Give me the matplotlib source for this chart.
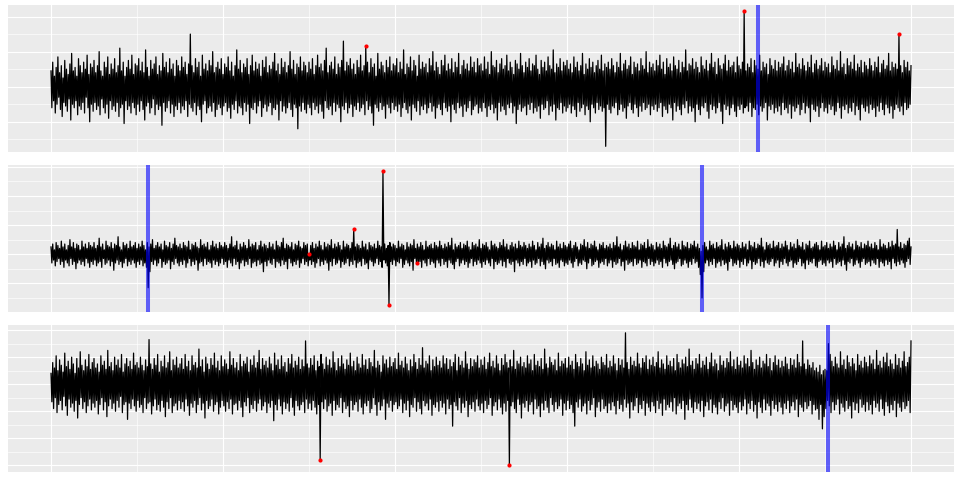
import numpy as np
import matplotlib
matplotlib.use("Agg")
import matplotlib.pyplot as plt

# ====== data: three noisy series, values stored in tenths ======
# 雜訊很密，所以每條序列記成「高點」(偶數時間點) 與「低點」(奇數時間點) 兩份，畫之前交錯合併
highs1 = [
    9, 14, 6, 11, 17, 8, 12, 5, 15, 10, 7, 13, 19, 9, 11, 6, 16, 12, 8, 14, 10, 18, 7, 13, 11,
    15, 8, 12, 20, 9, 6, 14, 11, 17, 7, 13, 10, 16, 8, 12, 22, 9, 14, 6, 11, 15, 10, 18, 7, 13,
    12, 16, 9, 14, 8, 21, 11, 6, 15, 10, 13, 17, 7, 12, 9, 19, 11, 14, 8, 16, 10, 13, 6, 15, 12,
    9, 17, 11, 14, 7, 13, 30, 12, 8, 16, 11, 14, 6, 18, 10, 13, 9, 15, 12, 20, 8, 11, 14, 10, 16,
    7, 13, 11, 17, 9, 14, 6, 12, 21, 10, 15, 8, 13, 11, 16, 7, 12, 18, 9, 14, 10, 13, 6, 15, 11,
    17, 8, 12, 10, 14, 19, 9, 13, 7, 16, 11, 14, 8, 12, 20, 10, 15, 7, 13, 11, 17, 9, 14, 12, 8,
    14, 10, 16, 7, 12, 18, 11, 13, 9, 15, 22, 8, 12, 14, 10, 17, 7, 13, 11, 15, 26, 9, 14, 12, 16,
    10, 13, 7, 15, 11, 18, 9, 12, 23, 14, 8, 16, 11, 13, 6, 19, 10, 14, 12, 8, 15, 11, 17, 9, 13,
    12, 16, 8, 14, 10, 21, 7, 13, 11, 17, 9, 15, 12, 6, 18, 10, 14, 11, 13, 8, 16, 12, 20, 9, 14,
    11, 7, 15, 12, 18, 9, 13, 10, 16, 8, 14, 11, 19, 7, 12, 15, 10, 13, 9, 17, 11, 14, 8, 16, 12,
    13, 9, 17, 10, 14, 7, 20, 12, 11, 15, 8, 13, 16, 10, 12, 18, 9, 14, 11, 7, 15, 13, 10, 19, 12,
    8, 14, 11, 16, 9, 13, 12, 18, 10, 7, 15, 11, 14, 9, 17, 12, 10, 21, 8, 13, 11, 16, 9, 14, 12,
    15, 10, 13, 8, 17, 11, 14, 9, 12, 19, 7, 13, 10, 16, 11, 14, 8, 12, 15, 10, 18, 9, 13, 11, 14,
    10, 16, 12, 8, 14, 11, 19, 9, 13, 15, 10, 12, 17, 7, 14, 11, 13, 9, 16, 12, 10, 20, 8, 14, 11,
    13, 9, 15, 12, 18, 10, 14, 7, 16, 11, 13, 9, 17, 12, 10, 15, 8, 14, 11, 21, 9, 13, 12, 16, 10,
    14, 11, 8, 17, 12, 10, 15, 9, 13, 19, 11, 14, 7, 16, 12, 10, 13, 18, 9, 15, 11, 12, 14, 8, 17,
    12, 10, 14, 43, 9, 13, 11, 16, 8, 15, 12, 10, 18, 9, 14, 11, 13, 7, 16, 12, 10, 15, 9, 14, 11,
    13, 17, 9, 12, 15, 10, 14, 8, 19, 11, 13, 10, 16, 12, 9, 14, 11, 18, 8, 13, 15, 10, 12, 16, 9,
    14, 11, 13, 8, 17, 12, 10, 15, 9, 20, 11, 13, 7, 16, 12, 14, 10, 18, 9, 13, 11, 15, 8, 14, 12,
    10, 16, 12, 9, 14, 11, 17, 8, 13, 15, 10, 12, 19, 9, 14, 11, 13, 10, 30, 12, 8, 15, 11, 14, 9, 12,
]
lows1 = [
    -12, -8, -15, -10, -6, -13, -17, -9, -11, -14, -7, -19, -10, -12, -8, -16, -11, -13, -9, -15, -6, -12, -20, -10, -14,
    -9, -13, -11, -16, -7, -12, -15, -10, -18, -8, -13, -11, -14, -9, -17, -12, -10, -21, -8, -13, -11, -15, -9, -12, -16,
    -10, -14, -8, -13, -19, -11, -9, -15, -12, -7, -16, -10, -13, -11, -22, -9, -14, -12, -8, -15, -10, -17, -11, -13, -9,
    -15, -11, -13, -8, -17, -10, -12, -14, -9, -16, -11, -13, -20, -10, -8, -15, -12, -11, -14, -9, -17, -13, -10, -12, -16,
    -11, -9, -14, -12, -18, -10, -13, -8, -15, -11, -12, -16, -9, -14, -10, -21, -12, -13, -9, -15, -11, -8, -17, -12, -10,
    -14, -11, -9, -16, -12, -13, -10, -19, -8, -14, -11, -15, -12, -9, -13, -17, -10, -12, -24, -11, -14, -9, -13, -15, -10,
    -12, -16, -9, -13, -11, -15, -10, -14, -18, -8, -12, -13, -11, -16, -9, -14, -10, -12, -20, -11, -13, -9, -15, -12, -10,
    -17, -11, -13, -9, -14, -12, -10, -16, -8, -13, -11, -15, -22, -10, -12, -14, -9, -13, -11, -18, -10, -12, -15, -9, -13,
    -11, -14, -10, -17, -12, -9, -13, -15, -11, -19, -10, -12, -14, -8, -16, -11, -13, -10, -15, -12, -9, -14, -11, -18, -12,
    -10, -13, -16, -9, -12, -14, -11, -20, -10, -13, -15, -9, -12, -11, -17, -10, -14, -12, -8, -16, -13, -11, -10, -15, -12,
    -14, -9, -12, -17, -11, -13, -10, -15, -12, -19, -9, -14, -11, -13, -16, -10, -12, -9, -15, -11, -21, -13, -10, -14, -12,
    -11, -16, -10, -13, -9, -15, -12, -14, -11, -18, -10, -13, -12, -8, -16, -11, -14, -10, -19, -12, -13, -9, -15, -11, -14,
    -12, -10, -15, -11, -13, -17, -9, -14, -12, -10, -16, -11, -13, -20, -10, -12, -15, -9, -13, -11, -14, -12, -34, -10, -13,
    -15, -11, -12, -9, -16, -13, -10, -14, -12, -18, -11, -9, -13, -15, -10, -12, -17, -11, -14, -9, -13, -12, -10, -16, -11,
    -13, -10, -14, -12, -9, -17, -11, -13, -15, -10, -12, -19, -9, -14, -11, -13, -16, -10, -12, -8, -15, -11, -14, -12, -20,
    -10, -13, -16, -11, -12, -9, -14, -18, -10, -13, -11, -15, -12, -9, -14, -21, -10, -13, -11, -16, -12, -10, -14, -17, -11,
    -13, -10, -15, -12, -11, -14, -9, -17, -12, -13, -10, -16, -11, -14, -12, -9, -19, -11, -13, -10, -15, -12, -14, -11, -16,
    -9, -13, -12, -15, -10, -18, -11, -14, -12, -10, -16, -13, -9, -15, -11, -12, -20, -10, -13, -14, -11, -17, -12, -9, -14,
    -12, -15, -10, -13, -11, -16, -14, -9, -12, -18, -11, -13, -10, -15, -12, -14, -9, -16, -11, -13, -19, -10, -12, -14, -11,
    -15, -10, -13, -12, -17, -11, -14, -9, -13, -16, -10, -12, -15, -11, -18, -13, -10, -12, -14, -11, -16, -9, -13, -12, -10,
]
highs2 = [
    5, 7, 3, 8, 6, 4, 9, 5, 7, 3, 6, 10, 5, 8, 4, 7, 6, 3, 9, 5, 7, 4, 8, 6, 5,
    8, 4, 6, 11, 5, 7, 3, 9, 6, 5, 8, 4, 7, 6, 12, 5, 3, 8, 6, 7, 4, 9, 5, 6, 8,
    4, 7, 5, 9, 6, 3, 8, 5, 7, 10, 4, 6, 8, 5, 7, 3, 9, 6, 5, 8, 4, 7, 11, 6, 5,
    7, 4, 8, 6, 5, 9, 3, 7, 6, 8, 5, 4, 10, 6, 7, 5, 8, 3, 6, 9, 5, 7, 4, 8, 6,
    5, 8, 6, 4, 7, 12, 5, 6, 9, 3, 7, 5, 8, 6, 4, 10, 5, 7, 6, 8, 3, 6, 9, 5, 7,
    6, 4, 8, 5, 7, 3, 9, 6, 5, 8, 11, 4, 7, 6, 5, 8, 3, 7, 6, 9, 5, 4, 8, 6, 7,
    0, 6, 8, 4, 7, 5, 9, 6, 3, 8, 5, 7, 6, 10, 4, 7, 5, 8, 6, 3, 9, 5, 7, 6, 4,
    8, 17, 5, 7, 6, 4, 9, 5, 7, 3, 8, 6, 5, 7, 4, 9, 6, 5, 57, 7, 4, 6, 8, 5, 7,
    6, 4, 9, 5, 7, 6, 3, 8, 5, 7, 6, 10, 4, 7, 5, 8, 6, 3, 9, 5, 6, 7, 4, 8, 6,
    5, 9, 6, 4, 7, 5, 8, 6, 11, 3, 7, 5, 6, 8, 4, 7, 6, 9, 5, 3, 8, 6, 7, 5, 10,
    4, 7, 6, 8, 5, 3, 9, 6, 7, 5, 4, 8, 6, 10, 5, 7, 3, 6, 8, 5, 7, 4, 9, 6, 5,
    8, 6, 4, 7, 5, 9, 6, 3, 8, 5, 7, 11, 4, 6, 8, 5, 7, 6, 3, 9, 5, 7, 4, 8, 6,
    5, 7, 9, 4, 6, 8, 5, 3, 7, 6, 10, 5, 8, 4, 7, 6, 9, 5, 3, 7, 6, 8, 4, 6, 5,
    7, 4, 8, 6, 12, 5, 7, 3, 6, 9, 5, 7, 4, 8, 6, 5, 9, 3, 7, 6, 8, 4, 10, 5, 7,
    6, 3, 8, 5, 7, 4, 9, 6, 5, 7, 11, 4, 6, 8, 5, 7, 3, 9, 6, 5, 8, 4, 7, 6, 9,
    5, 7, 4, 2, 6, 8, 5, 3, 9, 6, 7, 4, 8, 5, 6, 10, 3, 7, 5, 8, 6, 4, 9, 5, 7,
    6, 4, 8, 5, 7, 3, 9, 6, 5, 8, 4, 7, 6, 11, 5, 3, 8, 6, 7, 4, 9, 5, 6, 8, 4,
    7, 5, 9, 6, 3, 8, 5, 7, 4, 10, 6, 5, 8, 3, 7, 6, 9, 4, 5, 7, 8, 6, 3, 9, 5,
    6, 8, 4, 7, 5, 9, 6, 3, 8, 5, 7, 12, 4, 6, 8, 5, 7, 3, 9, 6, 5, 8, 4, 7, 6,
    9, 5, 7, 4, 8, 6, 3, 10, 5, 7, 6, 4, 8, 5, 9, 6, 7, 17, 5, 8, 4, 7, 6, 9, 11, 5,
]
lows2 = [
    -6, -4, -8, -5, -3, -7, -5, -9, -4, -6, -8, -3, -7, -5, -10, -6, -4, -7, -5, -8, -3, -6, -9, -5, -7,
    -4, -8, -6, -5, -9, -3, -7, -6, -4, -8, -5, -11, -6, -4, -7, -5, -9, -6, -3, -8, -5, -7, -4, -6, -9,
    -5, -7, -4, -8, -6, -9, -23, -12, -5, -7, -4, -8, -6, -3, -9, -5, -7, -6, -4, -10, -5, -7, -3, -6, -8,
    -5, -7, -4, -9, -6, -3, -8, -5, -7, -4, -11, -6, -5, -8, -3, -7, -5, -6, -9, -4, -7, -5, -8, -6, -3,
    -7, -5, -9, -4, -6, -8, -3, -7, -5, -10, -6, -4, -8, -5, -7, -3, -9, -6, -5, -8, -4, -7, -6, -12, -5,
    -8, -4, -6, -7, -3, -9, -5, -6, -8, -4, -7, -5, -10, -3, -6, -8, -5, -7, -4, -9, -6, -3, -7, -5, -8,
    -4, -7, -5, -9, -6, -3, -8, -5, -7, -4, -6, -11, -5, -8, -3, -7, -6, -4, -9, -5, -7, -6, -3, -8, -5,
    -7, -4, -9, -6, -5, -8, -3, -7, -6, -10, -4, -5, -8, -6, -3, -7, -5, -9, -4, -6, -8, -35, -5, -7, -4,
    -8, -5, -6, -3, -9, -7, -4, -6, -8, -5, -11, -3, -6, -7, -5, -9, -4, -6, -8, -3, -7, -5, -6, -9, -4,
    -6, -8, -3, -7, -5, -9, -4, -6, -7, -10, -5, -3, -8, -6, -4, -7, -5, -9, -6, -3, -8, -5, -7, -4, -6,
    -9, -5, -7, -4, -6, -8, -3, -10, -5, -7, -6, -4, -8, -5, -9, -3, -6, -7, -5, -12, -4, -6, -8, -5, -7,
    -3, -8, -6, -5, -9, -4, -7, -6, -3, -8, -5, -7, -10, -4, -6, -5, -8, -3, -7, -6, -9, -4, -5, -8, -6,
    -7, -4, -6, -9, -5, -3, -8, -6, -7, -4, -5, -10, -6, -3, -8, -7, -5, -4, -9, -6, -5, -7, -3, -8, -6,
    -4, -9, -5, -7, -6, -3, -8, -5, -11, -4, -7, -6, -5, -8, -3, -7, -6, -4, -9, -5, -6, -8, -3, -7, -5,
    -8, -6, -4, -7, -5, -9, -3, -6, -8, -5, -4, -7, -10, -6, -5, -3, -8, -7, -4, -6, -9, -5, -7, -3, -6,
    -5, -9, -14, -30, -12, -6, -4, -8, -5, -7, -3, -9, -6, -5, -8, -4, -7, -6, -11, -5, -3, -8, -6, -7, -4,
    -9, -5, -7, -3, -8, -6, -4, -10, -5, -7, -6, -3, -8, -5, -9, -4, -6, -7, -5, -3, -8, -6, -4, -9, -5,
    -7, -3, -6, -8, -5, -4, -9, -6, -7, -5, -3, -8, -6, -10, -4, -7, -5, -6, -3, -8, -9, -5, -4, -7, -6,
    -8, -4, -6, -5, -9, -3, -7, -6, -5, -8, -4, -7, -11, -5, -6, -3, -8, -7, -4, -6, -9, -5, -3, -7, -6,
    -5, -8, -4, -6, -7, -3, -9, -5, -6, -8, -4, -7, -5, -10, -3, -6, -8, -5, -7, -4, -6, -9, -5, -3, -7,
]
highs3 = [
    8, 16, 12, 21, 10, 18, 14, 9, 23, 13, 17, 11, 20, 15, 8, 19, 12, 24, 14, 10, 18, 13, 22, 11, 16,
    19, 12, 15, 9, 21, 14, 17, 11, 25, 13, 16, 10, 20, 14, 18, 12, 22, 9, 15, 19, 13, 17, 11, 23, 14,
    16, 12, 20, 14, 10, 18, 13, 33, 15, 11, 19, 14, 22, 9, 17, 13, 21, 12, 16, 24, 10, 18, 14, 20, 12,
    15, 19, 11, 22, 13, 17, 10, 21, 14, 16, 12, 26, 13, 18, 9, 20, 15, 11, 19, 14, 23, 12, 17, 10, 21,
    13, 18, 15, 11, 24, 14, 19, 12, 16, 10, 22, 13, 17, 15, 20, 9, 18, 14, 21, 12, 16, 25, 11, 19, 14,
    17, 12, 20, 15, 10, 23, 14, 18, 11, 21, 13, 16, 9, 19, 15, 22, 12, 17, 14, 20, 11, 18, 13, 32, 15,
    12, 19, 14, 21, 10, 17, 13, 22, 15, 11, 20, 14, 18, 12, 24, 16, 10, 19, 13, 21, 15, 11, 18, 14, 23,
    13, 17, 10, 20, 15, 12, 22, 14, 18, 11, 19, 16, 13, 25, 12, 17, 14, 9, 21, 15, 18, 12, 20, 13, 16,
    19, 11, 23, 14, 17, 12, 20, 15, 10, 18, 13, 22, 16, 11, 19, 14, 27, 12, 17, 15, 21, 10, 18, 13, 20,
    14, 17, 12, 21, 15, 19, 11, 18, 13, 16, 22, 10, 20, 14, 17, 12, 24, 15, 11, 19, 13, 18, 16, 21, 12,
    18, 14, 20, 11, 16, 23, 13, 17, 12, 21, 15, 10, 19, 14, 22, 16, 12, 18, 13, 25, 11, 17, 15, 20, 13,
    16, 12, 21, 15, 18, 10, 22, 14, 17, 13, 19, 11, 26, 15, 12, 20, 16, 14, 18, 10, 23, 13, 17, 15, 19,
    12, 20, 14, 17, 11, 22, 16, 13, 19, 15, 10, 24, 14, 18, 12, 21, 13, 17, 15, 11, 20, 16, 14, 22, 12,
    17, 13, 21, 15, 10, 19, 14, 18, 12, 38, 16, 11, 20, 14, 17, 13, 23, 15, 12, 19, 16, 21, 11, 18, 14,
    20, 13, 16, 24, 12, 18, 15, 11, 21, 14, 17, 13, 19, 10, 22, 16, 12, 18, 15, 20, 13, 26, 14, 17, 11,
    19, 15, 22, 12, 17, 14, 20, 11, 16, 23, 13, 18, 15, 10, 21, 14, 17, 12, 19, 16, 24, 13, 18, 11, 20,
    14, 17, 12, 21, 15, 19, 13, 25, 16, 11, 18, 14, 20, 12, 17, 15, 22, 13, 19, 10, 16, 21, 14, 18, 12,
    17, 13, 20, 15, 11, 19, 14, 18, 12, 22, 16, 13, 32, 15, 11, 18, 14, 12, 16, 10, 12, 9, 14, 7, 10,
    11, 10, 30, 22, 17, 13, 20, 15, 12, 24, 14, 18, 11, 21, 16, 13, 19, 15, 10, 22, 14, 17, 12, 20, 16,
    13, 21, 15, 18, 11, 25, 14, 17, 12, 20, 16, 23, 13, 18, 15, 11, 22, 14, 19, 12, 17, 24, 13, 16, 20, 32,
]
lows3 = [
    -13, -18, -10, -21, -15, -12, -19, -9, -16, -23, -11, -17, -14, -20, -12, -25, -15, -10, -18, -13, -21, -16, -11, -19, -14,
    -17, -12, -22, -15, -10, -19, -13, -24, -16, -11, -18, -14, -20, -12, -17, -9, -21, -15, -13, -26, -14, -18, -11, -16, -20,
    -12, -17, -15, -21, -10, -18, -14, -13, -22, -16, -11, -19, -15, -20, -12, -17, -24, -13, -18, -10, -21, -16, -14, -19, -12,
    -18, -13, -20, -11, -16, -23, -14, -17, -12, -21, -15, -10, -19, -14, -25, -12, -18, -16, -11, -20, -15, -13, -22, -17, -12,
    -16, -20, -13, -18, -11, -22, -15, -14, -19, -12, -17, -24, -13, -16, -10, -21, -15, -18, -12, -20, -14, -11, -19, -16, -13,
    -21, -14, -17, -12, -27, -15, -19, -11, -16, -22, -13, -18, -14, -20, -10, -17, -23, -12, -16, -19, -15, -13, -21, -11, -18,
    -14, -19, -12, -17, -22, -15, -56, -13, -18, -11, -20, -16, -14, -23, -12, -19, -15, -17, -10, -21, -13, -18, -16, -24, -12,
    -19, -15, -13, -20, -11, -17, -22, -14, -16, -12, -21, -18, -10, -15, -23, -13, -19, -16, -11, -26, -14, -17, -12, -20, -15,
    -13, -18, -16, -11, -21, -14, -19, -12, -24, -15, -17, -10, -20, -13, -18, -22, -12, -16, -14, -19, -11, -23, -15, -17, -13,
    -20, -12, -17, -14, -22, -11, -18, -15, -31, -13, -16, -19, -10, -21, -14, -17, -12, -24, -15, -18, -13, -20, -11, -16, -19,
    -14, -21, -12, -18, -15, -10, -23, -16, -13, -19, -11, -17, -22, -14, -20, -12, -60, -16, -13, -18, -21, -11, -15, -25, -14,
    -17, -12, -20, -15, -13, -22, -11, -18, -16, -24, -14, -19, -12, -17, -21, -10, -15, -20, -13, -18, -16, -11, -23, -14, -19,
    -12, -18, -15, -21, -31, -13, -17, -11, -20, -16, -14, -22, -12, -19, -15, -10, -24, -17, -13, -20, -11, -18, -16, -21, -14,
    -19, -13, -16, -22, -12, -18, -15, -20, -11, -17, -14, -25, -13, -19, -16, -10, -21, -15, -18, -12, -23, -14, -17, -20, -13,
    -16, -21, -12, -18, -14, -23, -11, -19, -15, -17, -13, -20, -10, -22, -16, -14, -18, -12, -26, -15, -19, -11, -17, -21, -13,
    -18, -14, -20, -12, -24, -16, -13, -19, -11, -21, -15, -17, -22, -13, -18, -10, -20, -16, -14, -23, -12, -19, -15, -17, -21,
    -13, -19, -16, -11, -22, -14, -18, -12, -20, -15, -25, -13, -17, -21, -11, -19, -14, -16, -23, -12, -18, -15, -20, -13, -17,
    -22, -14, -18, -12, -21, -16, -13, -19, -11, -24, -15, -17, -20, -13, -18, -16, -12, -22, -15, -19, -18, -26, -15, -33, -24,
    -18, -12, -16, -21, -13, -19, -15, -11, -22, -14, -17, -20, -12, -18, -16, -25, -13, -19, -14, -21, -11, -17, -15, -20, -13,
    -19, -15, -22, -12, -17, -14, -20, -11, -18, -23, -13, -16, -21, -15, -19, -12, -24, -14, -17, -20, -13, -18, -16, -12, -21,
]

# 紅點（異常值）所在的時間點
outliers1 = [366, 806, 986]
outliers2 = [300, 352, 386, 393, 425]
outliers3 = [313, 533]

# 藍線（變化點）
changes1 = [822]
changes2 = [113, 757]
changes3 = [904]

# y 軸範圍 (跟 ggplot 一樣留 5% 邊)
ylims = [(-3.71, 4.66), (-3.96, 6.12), (-6.49, 4.36)]

panels = [
    (highs1, lows1, outliers1, changes1),
    (highs2, lows2, outliers2, changes2),
    (highs3, lows3, outliers3, changes3),
]

fig, axes = plt.subplots(3, 1, figsize=(9.6, 4.8), dpi=100)
fig.subplots_adjust(left=8 / 960, right=954 / 960, top=475 / 480,
                    bottom=8 / 480, hspace=0.091)

for ax, (hi, lo, outs, chgs), ylim in zip(axes, panels, ylims):
    y = np.empty(len(hi) + len(lo))
    y[0::2] = hi
    y[1::2] = lo
    y = y / 10.0
    t = np.arange(len(y))

    ax.set_facecolor("#EBEBEB")
    for s in ax.spines.values():
        s.set_visible(False)
    ax.set_xlim(-50, 1050)
    ax.set_ylim(*ylim)
    ax.set_xticks([])
    ax.set_yticks([])

    # ggplot 風格的白色格線
    for gx in range(0, 1001, 100):
        ax.axvline(gx, color="white", lw=0.8 if gx % 200 == 0 else 0.45, zorder=0)
    for gy in range(int(np.ceil(ylim[0])), int(np.floor(ylim[1])) + 1):
        ax.axhline(gy, color="white", lw=0.8 if gy % 2 == 0 else 0.45, zorder=0)

    ax.plot(t, y, color="black", lw=0.9, zorder=2)
    ax.scatter(t[outs], y[outs], color="red", s=9, zorder=3, linewidths=0)
    for c in chgs:
        ax.axvline(c, color="blue", alpha=0.6, lw=2.9, zorder=4)

fig.savefig("out.png", dpi=100)
